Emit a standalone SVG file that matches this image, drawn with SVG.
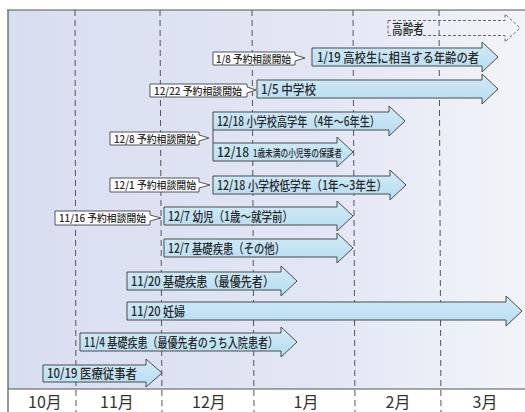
<svg xmlns="http://www.w3.org/2000/svg" width="525" height="412" viewBox="0 0 525 412">
<defs>
<linearGradient id="bg" x1="0" y1="0" x2="1" y2="0">
<stop offset="0" stop-color="#d8def1"/>
<stop offset="0.6" stop-color="#e2e6f4"/>
<stop offset="1" stop-color="#f3f4f9"/>
</linearGradient>
<linearGradient id="af" x1="0" y1="0" x2="0" y2="1">
<stop offset="0" stop-color="#d2ebf8"/>
<stop offset="1" stop-color="#b6dcf1"/>
</linearGradient>
<style>
.arr{fill:url(#af);stroke:#4a4a4a;stroke-width:1}
.dash{fill:none;stroke:#666;stroke-width:1;stroke-dasharray:3 2}
.grid{stroke:#555;stroke-width:1;stroke-dasharray:6 4}
.co{fill:#fff;stroke:#555;stroke-width:1}
.t{font-family:"Noto Sans CJK JP","Noto Sans",sans-serif;font-size:13px;font-weight:500;fill:#2a2a2a}
.ct{font-family:"Noto Sans CJK JP","Noto Sans",sans-serif;font-size:10.5px;font-weight:500;fill:#2a2a2a}
.m{font-family:"Noto Sans CJK JP","Noto Sans",sans-serif;font-size:16px;fill:#333;text-anchor:middle}
</style>
</defs>
<rect x="0" y="0" width="525" height="412" fill="#fff"/>
<rect x="8" y="10" width="517" height="379" fill="url(#bg)"/>
<g id="frame" stroke="#555" stroke-width="1.2" fill="none">
<line x1="7" y1="10" x2="525" y2="10"/>
<line x1="8" y1="10" x2="8" y2="412"/>
<line x1="8" y1="389" x2="525" y2="389"/>
</g>
<g id="grid">
<line class="grid" x1="75" y1="10" x2="76" y2="412"/>
<line class="grid" x1="160" y1="10" x2="162" y2="412"/>
<line class="grid" x1="252" y1="10" x2="254" y2="412"/>
<line class="grid" x1="353" y1="10" x2="355" y2="412"/>
<line class="grid" x1="439" y1="10" x2="441" y2="412"/>
</g>
<g id="months">
<text class="m" x="45" y="408">10月</text>
<text class="m" x="117" y="408">11月</text>
<text class="m" x="209" y="408">12月</text>
<text class="m" x="306" y="408">1月</text>
<text class="m" x="398" y="408">2月</text>
<text class="m" x="485" y="408">3月</text>
</g>
<g id="connectors">
<line x1="213" y1="130" x2="213" y2="143" stroke="#4a4a4a" stroke-width="1"/>
</g>
<g id="elderly">
<path class="dash" d="M388,20.5 H505 V14 L520,28 L505,42 V35.5 H388 Z"/>
<text class="t" x="392" y="32.5" textLength="32" lengthAdjust="spacingAndGlyphs">高齢者</text>
</g>
<g id="highschool">
<path class="arr" d="M312,48 H482 V42 L498,57 L482,72 V66 H312 Z"/>
<text class="t" x="317" y="62" textLength="162" lengthAdjust="spacingAndGlyphs">1/19 高校生に相当する年齢の者</text>
</g>
<g id="callout-1-8">
<path class="co" d="M213,52 H295 V55 L305,58 L295,61 V65 H213 Z"/>
<text class="ct" x="216" y="62.5" textLength="75" lengthAdjust="spacingAndGlyphs">1/8 予約相談開始</text>
</g>
<g id="junior">
<path class="arr" d="M257,80 H482 V74 L498,89 L482,104 V98 H257 Z"/>
<text class="t" x="261" y="94" textLength="55" lengthAdjust="spacingAndGlyphs">1/5 中学校</text>
</g>
<g id="callout-12-22">
<path class="co" d="M150,84 H247 V87 L256,90 L247,93 V97 H150 Z"/>
<text class="ct" x="154" y="94.5" textLength="88" lengthAdjust="spacingAndGlyphs">12/22 予約相談開始</text>
</g>
<g id="elem-upper">
<path class="arr" d="M213,112 H389 V106 L405,121 L389,136 V130 H213 Z"/>
<text class="t" x="217" y="126" textLength="163" lengthAdjust="spacingAndGlyphs">12/18 小学校高学年（4年～6年生）</text>
</g>
<g id="infant-guardian">
<path class="arr" d="M213,143 H337 V137 L353,152 L337,167 V161 H213 Z"/>
<text class="t" x="217" y="157"><tspan textLength="32" lengthAdjust="spacingAndGlyphs">12/18</tspan><tspan x="253" font-size="10.5" textLength="89" lengthAdjust="spacingAndGlyphs">1歳未満の小児等の保護者</tspan></text>
</g>
<g id="callout-12-8">
<path class="co" d="M110,132 H199 V135 L209,138 L199,141 V145 H110 Z"/>
<text class="ct" x="114" y="142.5" textLength="82" lengthAdjust="spacingAndGlyphs">12/8 予約相談開始</text>
</g>
<g id="elem-lower">
<path class="arr" d="M213,176 H390 V170 L406,185 L390,200 V194 H213 Z"/>
<text class="t" x="217" y="190" textLength="170" lengthAdjust="spacingAndGlyphs">12/18 小学校低学年（1年～3年生）</text>
</g>
<g id="callout-12-1">
<path class="co" d="M110,178 H199 V182 L210,185 L199,188 V192 H110 Z"/>
<text class="ct" x="114" y="189" textLength="82" lengthAdjust="spacingAndGlyphs">12/1 予約相談開始</text>
</g>
<g id="toddler">
<path class="arr" d="M164,207 H337 V201 L353,216 L337,231 V225 H164 Z"/>
<text class="t" x="168" y="221" textLength="125" lengthAdjust="spacingAndGlyphs">12/7 幼児（1歳～就学前）</text>
</g>
<g id="callout-11-16">
<path class="co" d="M55,211 H150 V215 L161,218 L150,221 V225 H55 Z"/>
<text class="ct" x="59" y="222" textLength="87" lengthAdjust="spacingAndGlyphs">11/16 予約相談開始</text>
</g>
<g id="underlying-other">
<path class="arr" d="M164,239 H337 V233 L353,248 L337,263 V257 H164 Z"/>
<text class="t" x="168" y="253" textLength="117" lengthAdjust="spacingAndGlyphs">12/7 基礎疾患（その他）</text>
</g>
<g id="underlying-priority">
<path class="arr" d="M127,272 H281 V266 L297,281 L281,296 V290 H127 Z"/>
<text class="t" x="131" y="286" textLength="143" lengthAdjust="spacingAndGlyphs">11/20 基礎疾患（最優先者）</text>
</g>
<g id="pregnant">
<path class="arr" d="M127,302 H506 V296 L522,311 L506,326 V320 H127 Z"/>
<text class="t" x="131" y="316" textLength="54" lengthAdjust="spacingAndGlyphs">11/20 妊婦</text>
</g>
<g id="inpatient">
<path class="arr" d="M80,333 H281 V327 L297,342 L281,357 V351 H80 Z"/>
<text class="t" x="84" y="347" textLength="194" lengthAdjust="spacingAndGlyphs">11/4 基礎疾患（最優先者のうち入院患者）</text>
</g>
<g id="medical">
<path class="arr" d="M43,365 H146 V359 L162,373 L146,387 V382 H43 Z"/>
<text class="t" x="47" y="378" textLength="90" lengthAdjust="spacingAndGlyphs">10/19 医療従事者</text>
</g>
</svg>
